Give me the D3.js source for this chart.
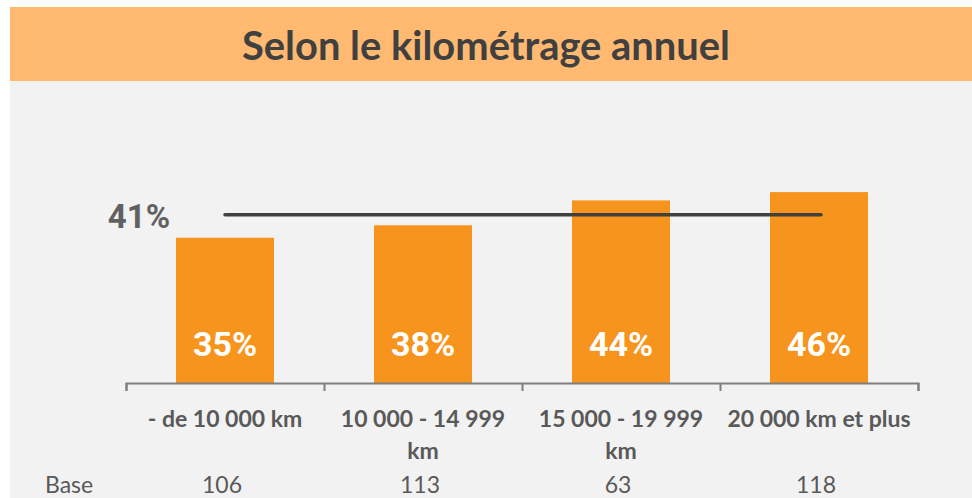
<!DOCTYPE html>
<html lang="fr">
<head>
<meta charset="UTF-8">
<title>Selon le kilométrage annuel</title>
<script src="https://cdnjs.cloudflare.com/ajax/libs/d3/7.8.5/d3.min.js"></script>
<style>
    body { margin: 0; background: #ffffff; }
    .title { font-family: Lato, "Open Sans", sans-serif; font-weight: 700; font-size: 40px; fill: #404040; }
    .cat { font-family: Lato, "Open Sans", sans-serif; font-weight: 700; font-size: 23px; fill: #595959; }
    .base { font-family: Lato, "Open Sans", sans-serif; font-size: 23px; fill: #595959; }
    .val { font-family: Roboto, "Liberation Sans", sans-serif; font-weight: 700; font-size: 34px; fill: #ffffff; }
    .avg { font-family: Roboto, "Liberation Sans", sans-serif; font-weight: 700; font-size: 33px; fill: #616161; }
</style>
</head>
<body>
<div id="chart"></div>
<script>
const categories = ["- de 10 000 km", "10 000 - 14 999\nkm", "15 000 - 19 999\nkm", "20 000 km et plus"];
const values = [35, 38, 44, 46];
const bases = [106, 113, 63, 118];
const average = 41;
const titleText = "Selon le kilométrage annuel";
const baseLabel = "Base";

const width = 972, height = 498;
const svg = d3.select("#chart").append("svg")
    .attr("width", width)
    .attr("height", height);

// panels
svg.append("rect").attr("x", 10).attr("y", 81).attr("width", width - 10).attr("height", height - 81).attr("fill", "#f2f2f2");
svg.append("rect").attr("x", 10).attr("y", 7).attr("width", width - 10).attr("height", 74).attr("fill", "#ffb971");
svg.append("text").attr("class", "title")
    .attr("x", 486).attr("y", 60)
    .attr("text-anchor", "middle")
    .attr("textLength", 488).attr("lengthAdjust", "spacingAndGlyphs")
    .text(titleText);

const x = d3.scaleBand().domain(categories).range([126, 918])
    .paddingInner(0.505).paddingOuter(0.2525);
const y = d3.scaleLinear().domain([0, 50]).range([383, 175.5]);
const edge = d3.scaleLinear().domain([0, categories.length]).range([126, 918]);

// bars
svg.selectAll(".bar").data(categories).enter().append("rect")
    .attr("class", "bar")
    .attr("x", d => x(d))
    .attr("y", (d, i) => y(values[i]))
    .attr("width", x.bandwidth())
    .attr("height", (d, i) => y(0) - y(values[i]))
    .attr("fill", "#f7941d");

// value labels
svg.selectAll(".val").data(categories).enter().append("text")
    .attr("class", "val")
    .attr("x", d => x(d) + x.bandwidth() / 2)
    .attr("y", 356)
    .attr("text-anchor", "middle")
    .text((d, i) => values[i] + "%");

// axis with ticks between categories
const axis = svg.append("g").attr("transform", `translate(0,${y(0)})`)
    .call(d3.axisBottom(edge).ticks(categories.length).tickSize(8).tickSizeOuter(8).tickFormat(""));
axis.selectAll("path, line").attr("stroke", "#7f7f7f").attr("stroke-width", 2);

// average line
const first = categories[0], last = categories[categories.length - 1];
svg.append("line")
    .attr("x1", x(first) + x.bandwidth() / 2)
    .attr("x2", x(last) + x.bandwidth() / 2 + 2)
    .attr("y1", y(average) + 2).attr("y2", y(average) + 2)
    .attr("stroke", "#404040").attr("stroke-width", 3.5).attr("stroke-linecap", "round");
svg.append("text").attr("class", "avg")
    .attr("x", 139).attr("y", 228)
    .attr("text-anchor", "middle")
    .text(average + "%");

// category labels
svg.selectAll(".cat").data(categories).enter().append("text")
    .attr("class", "cat")
    .attr("text-anchor", "middle")
    .each(function(d) {
        const t = d3.select(this);
        d.split("\n").forEach((line, k) => {
            t.append("tspan")
                .attr("x", x(d) + x.bandwidth() / 2)
                .attr("y", 427 + k * 32)
                .text(line);
        });
    });

// base row
svg.append("text").attr("class", "base").attr("x", 45).attr("y", 493).text(baseLabel);
svg.selectAll(".baseval").data(categories).enter().append("text")
    .attr("class", "base")
    .attr("x", d => x(d) + x.bandwidth() / 2 - 3)
    .attr("y", 493)
    .attr("text-anchor", "middle")
    .text((d, i) => bases[i]);
</script>
</body>
</html>
